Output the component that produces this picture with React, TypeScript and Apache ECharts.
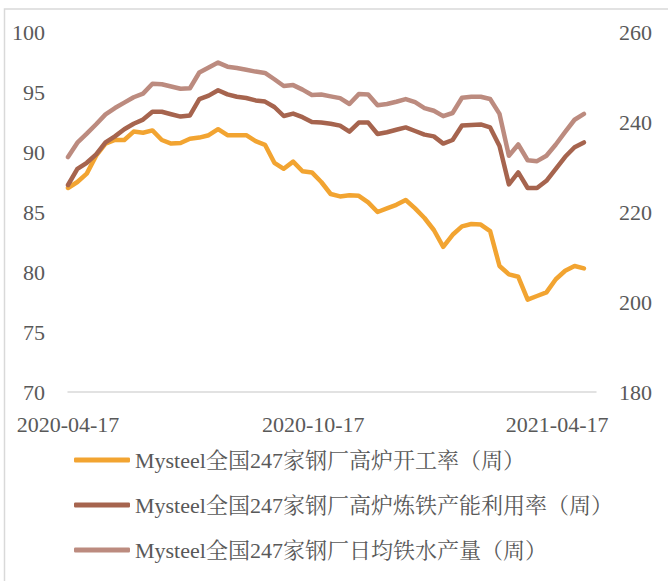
import React, { useEffect, useRef } from "react";
import * as echarts from "echarts";

const dates = [
  "2020-04-17", "2020-04-24", "2020-05-01", "2020-05-08", "2020-05-15", "2020-05-22", "2020-05-29",
  "2020-06-05", "2020-06-12", "2020-06-19", "2020-06-26", "2020-07-03", "2020-07-10", "2020-07-17",
  "2020-07-24", "2020-07-31", "2020-08-07", "2020-08-14", "2020-08-21", "2020-08-28", "2020-09-04",
  "2020-09-11", "2020-09-18", "2020-09-25", "2020-10-02", "2020-10-09", "2020-10-16", "2020-10-23",
  "2020-10-30", "2020-11-06", "2020-11-13", "2020-11-20", "2020-11-27", "2020-12-04", "2020-12-11",
  "2020-12-18", "2020-12-25", "2021-01-01", "2021-01-08", "2021-01-15", "2021-01-22", "2021-01-29",
  "2021-02-05", "2021-02-12", "2021-02-19", "2021-02-26", "2021-03-05", "2021-03-12", "2021-03-19",
  "2021-03-26", "2021-04-02", "2021-04-09", "2021-04-16", "2021-04-23", "2021-04-30", "2021-05-07",
];

const openRate = [
  87.0, 87.5, 88.2, 89.7, 90.7, 91.0, 91.0, 91.7, 91.6, 91.8, 91.0, 90.7, 90.75, 91.1,
  91.2, 91.4, 91.9, 91.4, 91.4, 91.4, 90.9, 90.6, 89.1, 88.6, 89.2, 88.4, 88.3, 87.5,
  86.5, 86.3, 86.4, 86.35, 85.8, 85.0, 85.3, 85.6, 86.0, 85.3, 84.5, 83.5, 82.1, 83.1,
  83.8, 84.0, 83.95, 83.4, 80.5, 79.8, 79.6, 77.7, 78.0, 78.3, 79.4, 80.1, 80.5, 80.3,
];

const utilRate = [
  87.25, 88.6, 89.1, 89.8, 90.8, 91.3, 91.9, 92.35, 92.7, 93.35, 93.35, 93.15, 92.95, 93.05,
  94.4, 94.7, 95.15, 94.8, 94.6, 94.5, 94.3, 94.2, 93.75, 93.0, 93.2, 92.9, 92.5, 92.45,
  92.35, 92.2, 91.7, 92.45, 92.45, 91.5, 91.65, 91.85, 92.05, 91.75, 91.45, 91.3, 90.7, 91.0,
  92.2, 92.25, 92.3, 92.05, 90.5, 87.3, 88.3, 87.0, 87.0, 87.6, 88.6, 89.6, 90.4, 90.8,
];

const dailyOutput = [
  232.2, 235.4, 237.4, 239.5, 241.7, 243.1, 244.3, 245.5, 246.3, 248.5, 248.4, 247.9, 247.4, 247.5,
  251.0, 252.1, 253.2, 252.3, 252.0, 251.6, 251.2, 250.9, 249.5, 248.0, 248.2, 247.2, 246.0, 246.1,
  245.7, 245.3, 244.0, 246.2, 246.1, 243.7, 244.0, 244.5, 245.1, 244.4, 243.1, 242.5, 241.3, 242.0,
  245.4, 245.6, 245.6, 245.1, 241.8, 232.5, 235.0, 231.5, 231.3, 232.5, 235.0, 237.8, 240.5, 241.8,
];

const seriesNames = [
  "Mysteel全国247家钢厂高炉开工率（周）",
  "Mysteel全国247家钢厂高炉炼铁产能利用率（周）",
  "Mysteel全国247家钢厂日均铁水产量（周）",
];

const xLabelDates = ["2020-04-17", "2020-10-17", "2021-04-17"];
const axisStart = "2020-04-17";
const axisEnd = "2021-05-16";

const colors = ["#F2A431", "#A6644E", "#BC8B7F"];
const FONT = "'Liberation Serif', 'Noto Serif CJK SC', 'Noto Sans CJK SC', serif";
const TEXT = "#595959";

const ts = (d: string) => +new Date(d + "T00:00:00");

export default function App() {
  const ref = useRef<HTMLDivElement>(null);
  useEffect(() => {
    if (!ref.current) return;
    const chart = echarts.init(ref.current, null, { renderer: "svg" });
    const mk = (arr: number[]) => arr.map((v, i) => [ts(dates[i]), v]);
    const lineSeries = (name: string, data: number[], color: string, yIdx: number) => ({
      name,
      type: "line",
      yAxisIndex: yIdx,
      data: mk(data),
      showSymbol: false,
      symbol: "none",
      lineStyle: { color, width: 4.5, cap: "round", join: "round" },
      itemStyle: { color },
    });
    chart.setOption({
      animation: false,
      backgroundColor: "#ffffff",
      textStyle: { fontFamily: FONT },
      graphic: [
        {
          type: "rect",
          shape: { x: 4.5, y: 9, width: 800, height: 700 },
          style: { fill: "none", stroke: "#d9d9d9", lineWidth: 1.5 },
          silent: true,
        },
      ],
      grid: { left: 68, right: 72, top: 32, bottom: 189, containLabel: false },
      legend: {
        orient: "vertical",
        left: 74,
        top: 449,
        padding: 0,
        itemWidth: 56,
        itemHeight: 5,
        itemGap: 23,
        icon: "roundRect",
        textStyle: { fontFamily: FONT, fontSize: 22, color: TEXT, padding: [0, 0, 0, 0] },
        data: seriesNames,
      },
      xAxis: {
        type: "time",
        min: ts(axisStart),
        max: ts(axisEnd),
        axisLine: { show: true, lineStyle: { color: "#d9d9d9", width: 1.5 } },
        axisTick: { show: false },
        splitLine: { show: false },
        axisLabel: {
          customValues: xLabelDates.map(ts),
          formatter: "{yyyy}-{MM}-{dd}",
          fontFamily: FONT,
          fontSize: 22,
          color: TEXT,
          margin: 21,
          hideOverlap: false,
          showMinLabel: true,
          showMaxLabel: true,
        },
      },
      yAxis: [
        {
          type: "value",
          min: 70,
          max: 100,
          interval: 5,
          axisLine: { show: false },
          axisTick: { show: false },
          splitLine: { show: false },
          axisLabel: { fontFamily: FONT, fontSize: 22, color: TEXT, margin: 23 },
        },
        {
          type: "value",
          min: 180,
          max: 260,
          interval: 20,
          position: "right",
          axisLine: { show: false },
          axisTick: { show: false },
          splitLine: { show: false },
          axisLabel: { fontFamily: FONT, fontSize: 22, color: TEXT, margin: 23 },
        },
      ],
      series: [
        lineSeries(seriesNames[0], openRate, colors[0], 0),
        lineSeries(seriesNames[1], utilRate, colors[1], 0),
        lineSeries(seriesNames[2], dailyOutput, colors[2], 1),
      ],
    });
    return () => chart.dispose();
  }, []);
  return (
    <div
      ref={ref}
      style={{ position: "absolute", left: 0, top: 0, width: 668, height: 581, background: "#fff" }}
    />
  );
}
